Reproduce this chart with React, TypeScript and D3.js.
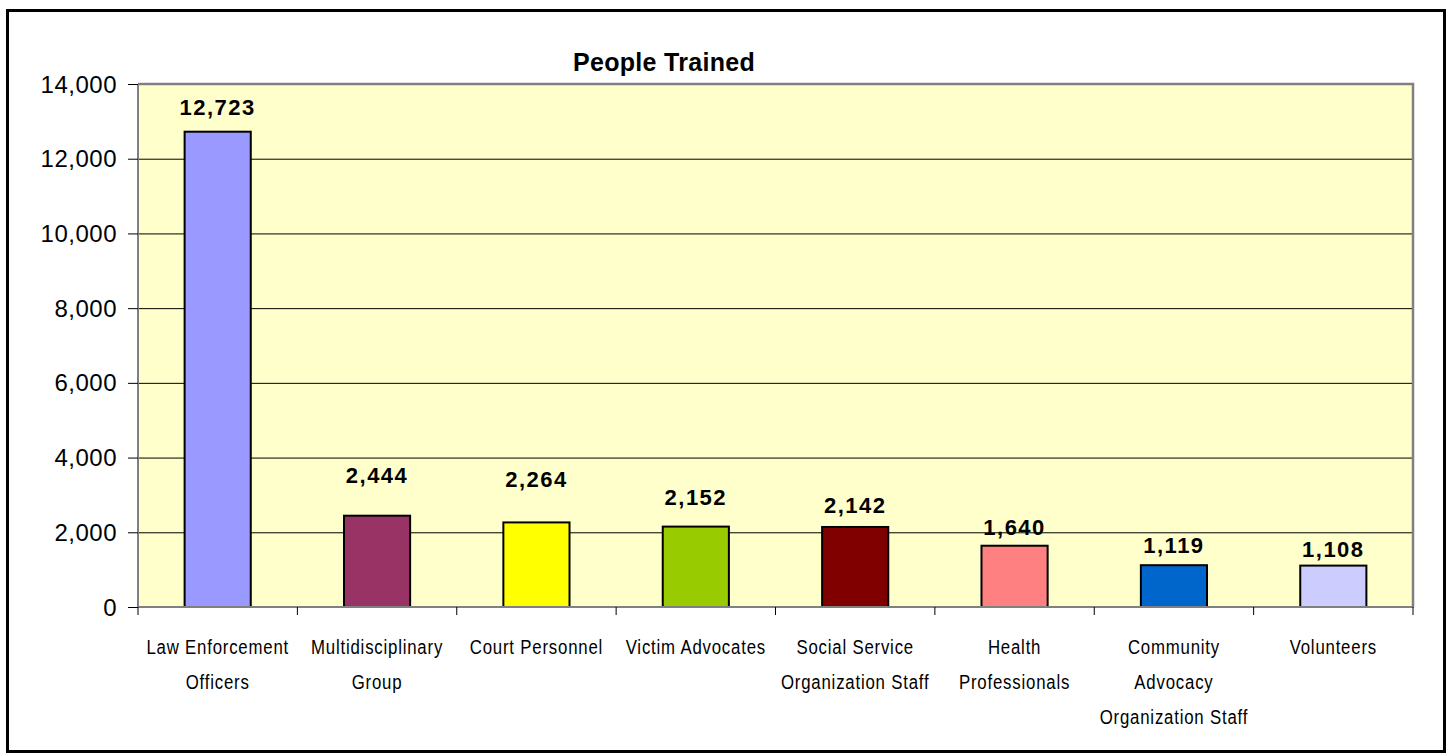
import React from 'react';
import * as d3 from 'd3';

// category labels, line breaks as in the original chart
const categories = [
  'Law Enforcement\nOfficers',
  'Multidisciplinary\nGroup',
  'Court Personnel',
  'Victim Advocates',
  'Social Service\nOrganization Staff',
  'Health\nProfessionals',
  'Community\nAdvocacy\nOrganization Staff',
  'Volunteers',
];
const values = [12723, 2444, 2264, 2152, 2142, 1640, 1119, 1108];
// where each value label sits, in data units (labels were hand-placed in the source)
const labelAt = [13390, 3530, 3420, 2950, 2730, 2140, 1660, 1560];
const barColors = ['#9999FF', '#993366', '#FFFF00', '#99CC00', '#800000', '#FF8080', '#0066CC', '#CCCCFF'];
const yTicks = [0, 2000, 4000, 6000, 8000, 10000, 12000, 14000];

const W = 1447;
const H = 753;
const margin = { left: 138, right: W - 1413, top: 84, bottom: H - 607 };

const App: React.FC = () => {
  const x = d3.scaleBand<number>()
    .domain(d3.range(categories.length))
    .range([margin.left, W - margin.right])
    .paddingInner(0.585)
    .paddingOuter(0.2925);
  const y = d3.scaleLinear().domain([0, 14000]).range([H - margin.bottom, margin.top]);
  const fmt = d3.format(',d');
  const step = (W - margin.left - margin.right) / categories.length;
  const x0 = margin.left;
  const x1 = W - margin.right;
  const y0 = y(0);
  const yTop = y(14000);
  const cx = (i: number) => (x(i) ?? 0) + x.bandwidth() / 2;

  return (
    <div style={{ position: 'absolute', left: 0, top: 0 }}>
      <svg width={W} height={H} style={{ display: 'block', background: '#fff' }}>
        <rect x={7.5} y={10.5} width={1437} height={741} fill="#fff" stroke="#000" strokeWidth={3} />

        <text x={664} y={71} textAnchor="middle" fontFamily="'Liberation Sans', Arial, sans-serif"
          fontWeight="bold" fontSize={25} letterSpacing={0.3}>People Trained</text>

        {/* plot area */}
        <rect x={x0} y={yTop} width={x1 - x0} height={y0 - yTop} fill="#FFFFCC" />
        {yTicks.filter(t => t > 0 && t < 14000).map(t => (
          <line key={t} x1={x0} x2={x1} y1={y(t) + 0.5} y2={y(t) + 0.5} stroke="#000" strokeWidth={1} />
        ))}
        <path d={`M${x0},${yTop}H${x1}V${y0}`} fill="none" stroke="#808080" strokeWidth={2.5} />

        {/* bars */}
        {values.map((v, i) => (
          <rect key={i} x={x(i)} y={y(v)} width={x.bandwidth()} height={y0 - y(v)}
            fill={barColors[i]} stroke="#000" strokeWidth={2} />
        ))}

        {/* axes */}
        <line x1={x0} x2={x0} y1={yTop} y2={y0} stroke="#808080" strokeWidth={2} />
        <line x1={x0} x2={x1 + 1} y1={y0} y2={y0} stroke="#808080" strokeWidth={2} />
        {yTicks.map(t => (
          <g key={t}>
            <line x1={x0 - 10} x2={x0} y1={y(t) + 0.5} y2={y(t) + 0.5} stroke="#000" strokeWidth={1} />
            <text x={x0 - 21} y={y(t)} dy="0.36em" textAnchor="end"
              fontFamily="'Liberation Sans', Arial, sans-serif" fontSize={24} letterSpacing={0.5}>{fmt(t)}</text>
          </g>
        ))}
        {d3.range(categories.length + 1).map(i => (
          <line key={i} x1={x0 + i * step} x2={x0 + i * step} y1={y0} y2={y0 + 8} stroke="#000" strokeWidth={1} />
        ))}

        {/* value labels */}
        {values.map((v, i) => (
          <text key={i} x={cx(i)} y={y(labelAt[i])} dy="0.36em" textAnchor="middle"
            fontFamily="'Liberation Sans', Arial, sans-serif" fontWeight="bold" fontSize={22} letterSpacing={1.5}>
            {fmt(v)}
          </text>
        ))}

        {/* category labels, condensed like Arial Narrow */}
        {categories.map((c, i) => (
          <g key={i} transform={`translate(${cx(i)},0) scale(0.8,1)`}>
            <text textAnchor="middle" fontFamily="'Liberation Sans', Arial, sans-serif" fontSize={21}
              letterSpacing={1}>
              {c.split('\n').map((line, j) => (
                <tspan key={j} x={0} y={y0 + 47 + j * 35}>{line}</tspan>
              ))}
            </text>
          </g>
        ))}
      </svg>
    </div>
  );
};

export default App;
